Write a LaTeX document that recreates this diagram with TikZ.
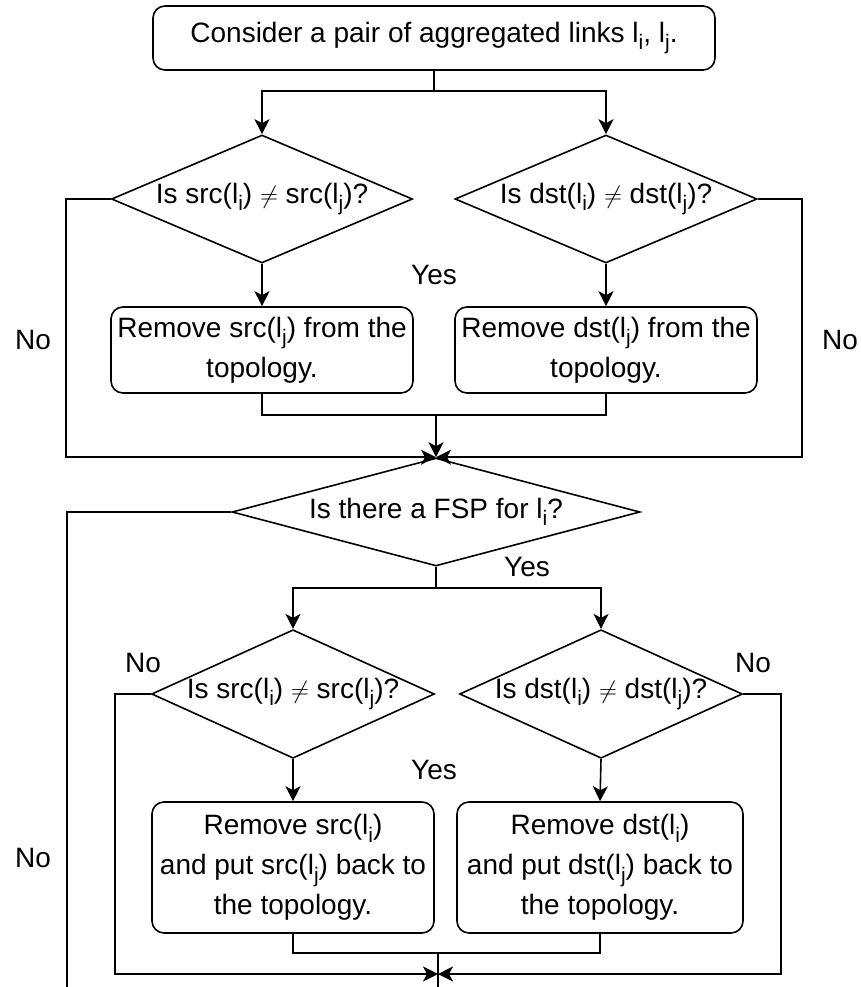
\documentclass[tikz,border=0pt]{standalone}
\usepackage{fontspec}
\setmainfont{Liberation Sans}
\usetikzlibrary{shapes.geometric,arrows.meta}
% link names with a lowered index
\newcommand{\lsi}{l\raisebox{-0.5ex}{\fontsize{21}{21}\selectfont i}}
\newcommand{\lsj}{l\raisebox{-0.5ex}{\fontsize{21}{21}\selectfont j}}
\begin{document}
\begin{tikzpicture}[x=1pt,y=-1pt,
  every node/.style={font=\fontsize{28}{40}\selectfont},
  line/.style={line width=1.6pt},
  arr/.style={line, -{Stealth[length=15pt,width=15pt,inset=4pt]}},
  proc/.style={draw, line width=1.6pt, rounded corners=12pt, align=center, inner sep=0pt},
  decide/.style={draw, diamond, line width=1.6pt, inner sep=0pt, align=center},
  lbl/.style={inner sep=0pt}]
\useasboundingbox (0,0) rectangle (861,987);

% nodes
\node[proc, minimum width=562pt, minimum height=64pt] (top) at (434,38)
  {Consider a pair of aggregated links \lsi, \lsj.};
\node[decide, aspect=2.35, minimum width=301pt, minimum height=128pt] (d1) at (262,199)
  {Is src(\lsi) $\neq$ src(\lsj)?};
\node[decide, aspect=2.35, minimum width=302pt, minimum height=128pt] (d2) at (606,199)
  {Is dst(\lsi) $\neq$ dst(\lsj)?};
\node[proc, minimum width=302pt, minimum height=86pt] (b1) at (262,350)
  {Remove src(\lsj) from the\\topology.};
\node[proc, minimum width=302pt, minimum height=86pt] (b2) at (606,350)
  {Remove dst(\lsj) from the\\topology.};
\node[decide, aspect=3.8, minimum width=408pt, minimum height=108pt] (d3) at (436,512)
  {Is there a FSP for \lsi?};
\node[decide, aspect=2.2, minimum width=279pt, minimum height=127pt] (d4) at (293,694)
  {Is src(\lsi) $\neq$ src(\lsj)?};
\node[decide, aspect=2.2, minimum width=280pt, minimum height=127pt] (d5) at (601,694)
  {Is dst(\lsi) $\neq$ dst(\lsj)?};
\node[proc, minimum width=282pt, minimum height=131pt] (b3) at (293,867.5)
  {Remove src(\lsi)\\and put src(\lsj) back to\\the topology.};
\node[proc, minimum width=286pt, minimum height=131pt] (b4) at (600,867.5)
  {Remove dst(\lsi)\\and put dst(\lsj) back to\\the topology.};

% labels
\node[lbl] (no1) at (33,340) {No};
\node[lbl] (no2) at (840,340) {No};
\node[lbl] (no3) at (33,858) {No};
\node[lbl] (no4) at (143,663) {No};
\node[lbl] (no5) at (753,663) {No};
\node[lbl] (yes1) at (434,275) {Yes};
\node[lbl] (yes2) at (527,567) {Yes};
\node[lbl] (yes3) at (434,770) {Yes};

% first split
\coordinate (s1) at (434,91);
\draw[line] (top.south) -- (s1);
\draw[arr] (s1) -| (d1.north);
\draw[arr] (s1) -| (d2.north);
\draw[arr] (d1.south) -- (b1.north);
\draw[arr] (d2.south) -- (b2.north);

% merge into the FSP test
\coordinate (m1) at (436,415);
\draw[line] (b1.south) |- (m1) -| (b2.south);
\draw[arr] (m1) -- (d3.north);
\draw[arr] (d1.west) -- ++(-45,0) |- (d3.north);
\draw[arr] (d2.east) -- ++(44,0) |- (d3.north);

% FSP "No" branch
\coordinate (e1) at (67,987);
\draw[line] (d3.west) -| (e1);

% second split
\coordinate (s2) at (436,588);
\draw[line] (d3.south) -- (s2);
\draw[arr] (s2) -| (d4.north);
\draw[arr] (s2) -| (d5.north);
\draw[arr] (d4.south) -- (b3.north);
\draw[arr] (d5.south) -- (b4.north);

% final merge
\coordinate (j2) at (438,974);
\draw[arr] (d4.west) -- ++(-36,0) |- (j2);
\draw[arr] (d5.east) -- ++(38,0) |- (j2);
\coordinate (m2) at (438,953);
\draw[line] (b3.south) |- (m2) -| (b4.south);
\coordinate (e2) at (438,987);
\draw[line] (m2) -- (e2);
\end{tikzpicture}
\end{document}
